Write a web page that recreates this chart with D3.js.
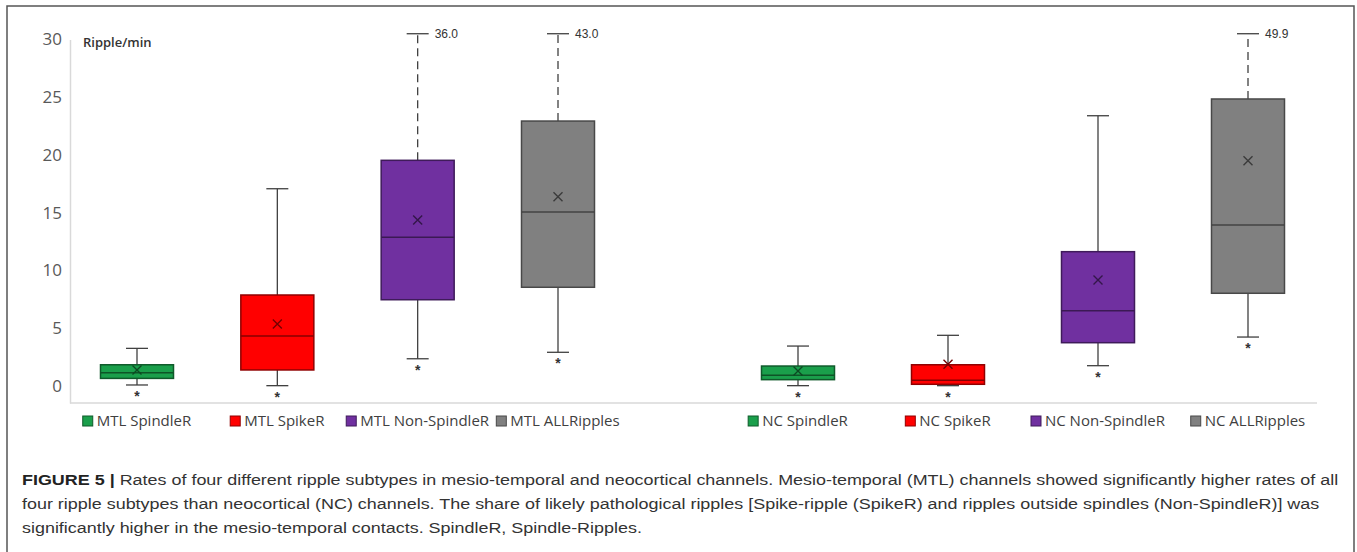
<!DOCTYPE html>
<html>
<head>
<meta charset="utf-8">
<script src="https://cdn.jsdelivr.net/npm/d3@7"></script>
<style>
  html, body { margin: 0; padding: 0; background: #fff; }
  svg { display: block; }
</style>
</head>
<body>
<svg id="chart" width="1357" height="552"></svg>
<script>
// ---------- data ----------
const categories = ["MTL SpindleR", "MTL SpikeR", "MTL Non-SpindleR", "MTL ALLRipples",
                    "NC SpindleR", "NC SpikeR", "NC Non-SpindleR", "NC ALLRipples"];
const groupOf = ["MTL", "MTL", "MTL", "MTL", "NC", "NC", "NC", "NC"];
const whiskerLow  = [0.09, 0.03, 2.36, 2.92, 0.03, 0.03, 1.76, 4.24];
const q1          = [0.66, 1.39, 7.47, 8.55, 0.55, 0.15, 3.75, 8.03];
const median      = [1.15, 4.33, 12.87, 15.06, 0.93, 0.49, 6.52, 13.94];
const q3          = [1.84, 7.88, 19.54, 22.94, 1.73, 1.84, 11.63, 24.85];
const mean        = [1.39, 5.37, 14.37, 16.39, 1.30, 1.88, 9.18, 19.51];
const whiskerHigh = [3.26, 17.08, 36.0, 43.0, 3.46, 4.39, 23.4, 49.9];
const colors = ["#1a9f4b", "#ff0000", "#7030a0", "#808080",
                "#1a9f4b", "#ff0000", "#7030a0", "#808080"];
const yTicks = [0, 5, 10, 15, 20, 25, 30];
const yLabel = "Ripple/min";
const axisBreak = 30.5;   // whiskers above this value are drawn broken (dashed) with their value
const captionBold = "FIGURE 5 |";
const captionLines = [
  " Rates of four different ripple subtypes in mesio-temporal and neocortical channels. Mesio-temporal (MTL) channels showed significantly higher rates of all",
  "four ripple subtypes than neocortical (NC) channels. The share of likely pathological ripples [Spike-ripple (SpikeR) and ripples outside spindles (Non-SpindleR)] was",
  "significantly higher in the mesio-temporal contacts. SpindleR, Spindle-Ripples."
];

// ---------- layout ----------
const svg = d3.select("#chart");
const W = 1357, H = 552;

// outer frame
svg.append("rect").attr("x", 7).attr("y", 6).attr("width", 1347).attr("height", 560)
  .attr("fill", "none").attr("stroke", "#555").attr("stroke-width", 1.5);

const y = d3.scaleLinear().domain([-1.47, 30]).range([403, 39.5]);

const mtlCats = categories.filter((c, i) => groupOf[i] === "MTL");
const ncCats = categories.filter((c, i) => groupOf[i] === "NC");
const xMTL = d3.scalePoint().domain(mtlCats).range([137, 558]);
const xNC = d3.scalePoint().domain(ncCats).range([798, 1248]);
const x = c => (mtlCats.includes(c) ? xMTL(c) : xNC(c));

// y axis
const yAxis = d3.axisLeft(y).tickValues(yTicks).tickSize(0).tickSizeOuter(0).tickPadding(8);
const gy = svg.append("g").attr("transform", "translate(70,0)").call(yAxis);
gy.select(".domain").attr("stroke", "#d9d9d9").attr("stroke-width", 1.5);
gy.selectAll("text").attr("font-family", "'Open Sans', sans-serif").attr("font-size", 17)
  .attr("fill", "#595959");

// baseline
svg.append("line").attr("x1", 70).attr("x2", 1317)
  .attr("y1", y(y.domain()[0])).attr("y2", y(y.domain()[0]))
  .attr("stroke", "#d9d9d9").attr("stroke-width", 1.5);

svg.append("text").attr("x", 83).attr("y", y(30) + 7).text(yLabel)
  .attr("font-family", "'Open Sans', sans-serif").attr("font-size", 13)
  .attr("font-weight", 600).attr("fill", "#333");

// ---------- boxes ----------
const boxW = 73, capW = 22;
const data = categories.map((c, i) => ({
  c, lo: whiskerLow[i], q1: q1[i], med: median[i], q3: q3[i], mean: mean[i],
  hi: whiskerHigh[i], color: colors[i]
}));

const g = svg.append("g");
const items = g.selectAll("g.box").data(data).join("g").attr("class", "box");

// upper whisker
items.append("line")
  .attr("x1", d => x(d.c)).attr("x2", d => x(d.c))
  .attr("y1", d => y(d.q3)).attr("y2", d => y(Math.min(d.hi, axisBreak)))
  .attr("stroke", "#404040").attr("stroke-width", 1.3)
  .attr("stroke-dasharray", d => d.hi > axisBreak ? "8,5" : null);
items.append("line")
  .attr("x1", d => x(d.c) - capW / 2).attr("x2", d => x(d.c) + capW / 2)
  .attr("y1", d => y(Math.min(d.hi, axisBreak))).attr("y2", d => y(Math.min(d.hi, axisBreak)))
  .attr("stroke", "#404040").attr("stroke-width", 1.3);
// lower whisker
items.append("line")
  .attr("x1", d => x(d.c)).attr("x2", d => x(d.c))
  .attr("y1", d => y(d.q1)).attr("y2", d => y(d.lo))
  .attr("stroke", "#404040").attr("stroke-width", 1.3);
items.append("line")
  .attr("x1", d => x(d.c) - capW / 2).attr("x2", d => x(d.c) + capW / 2)
  .attr("y1", d => y(d.lo)).attr("y2", d => y(d.lo))
  .attr("stroke", "#404040").attr("stroke-width", 1.3);
// box
items.append("rect")
  .attr("x", d => x(d.c) - boxW / 2).attr("width", boxW)
  .attr("y", d => y(d.q3)).attr("height", d => y(d.q1) - y(d.q3))
  .attr("fill", d => d.color)
  .attr("stroke", d => d3.color(d.color).darker(1.6)).attr("stroke-width", 1.5);
// median
items.append("line")
  .attr("x1", d => x(d.c) - boxW / 2).attr("x2", d => x(d.c) + boxW / 2)
  .attr("y1", d => y(d.med)).attr("y2", d => y(d.med))
  .attr("stroke", d => d3.color(d.color).darker(1.8)).attr("stroke-width", 1.5);
// mean marker (x)
const mk = 4.5;
items.append("path")
  .attr("d", d => {
    const cx = x(d.c), cy = y(d.mean);
    return `M${cx - mk},${cy - mk}L${cx + mk},${cy + mk}M${cx - mk},${cy + mk}L${cx + mk},${cy - mk}`;
  })
  .attr("stroke", d => d3.color(d.color).darker(2.2)).attr("stroke-width", 1.4).attr("fill", "none");
// broken whisker value
items.filter(d => d.hi > axisBreak).append("text")
  .attr("x", d => x(d.c) + capW / 2 + 6).attr("y", y(axisBreak) + 4)
  .text(d => d3.format(".1f")(d.hi))
  .attr("font-family", "'Liberation Sans', Arial, sans-serif").attr("font-size", 12)
  .attr("fill", "#333");
// asterisks
items.append("text")
  .attr("x", d => x(d.c)).attr("y", d => y(d.lo) + 16)
  .attr("text-anchor", "middle").text("*")
  .attr("font-family", "'Liberation Sans', Arial, sans-serif").attr("font-size", 14)
  .attr("font-weight", "bold").attr("fill", "#333");

// ---------- legend (centered under each box) ----------
const leg = svg.append("g").selectAll("g").data(data).join("g");
leg.append("text")
  .attr("y", 426).text(d => d.c)
  .attr("font-family", "'Open Sans', sans-serif").attr("font-size", 15)
  .attr("fill", "#404040");
leg.each(function (d) {
  const t = d3.select(this).select("text");
  const tw = t.node().getComputedTextLength();
  const total = 10 + 4 + tw;
  const start = x(d.c) - total / 2;
  t.attr("x", start + 14);
  d3.select(this).append("rect").attr("x", start).attr("y", 416).attr("width", 10).attr("height", 10)
    .attr("fill", d.color).attr("stroke", d3.color(d.color).darker(1.6)).attr("stroke-width", 1);
});

// ---------- caption ----------
const capG = svg.append("g");
const capFont = "'Liberation Sans', Arial, sans-serif";
const capTexts = captionLines.map((line, i) => {
  const t = capG.append("text").attr("x", 22).attr("y", 485 + i * 23.8)
    .attr("font-family", capFont).attr("font-size", 14.5).attr("fill", "#333");
  if (i === 0) {
    t.append("tspan").attr("font-weight", "bold").attr("fill", "#222").text(captionBold);
  }
  t.append("tspan").text(line);
  return t;
});
// fit first line width to figure
const w0 = capTexts[0].node().getComputedTextLength();
const sx = (1340 - 22) / w0;
capTexts.forEach(t => t.attr("transform", `translate(22,0) scale(${sx},1) translate(-22,0)`));
</script>
</body>
</html>
